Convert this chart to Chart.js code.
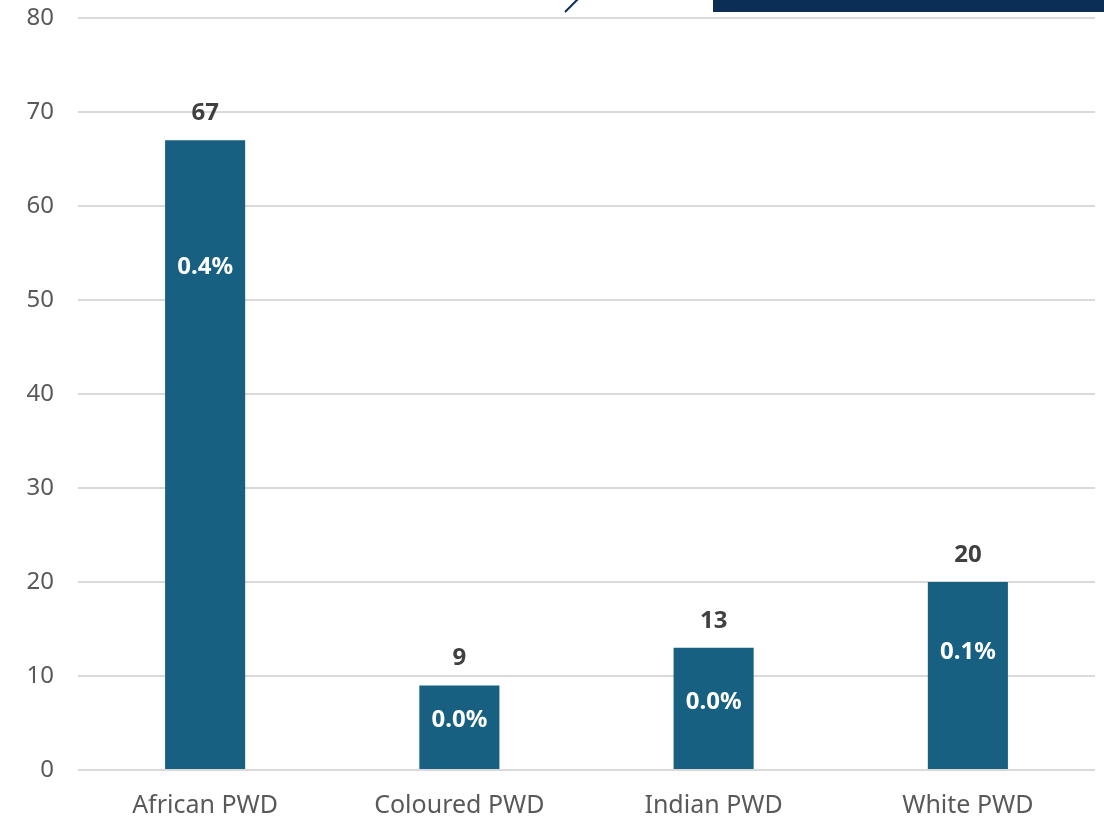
<!DOCTYPE html>
<html>
<head>
<meta charset="utf-8">
<title>PWD by population group</title>
<script src="https://cdn.jsdelivr.net/npm/chart.js@4.4.1/dist/chart.umd.min.js"></script>
<style>
  html, body { margin: 0; padding: 0; background: #ffffff; }
  #wrap { width: 1104px; height: 819px; position: relative; }
</style>
</head>
<body>
<div id="wrap"><canvas id="pwdChart" width="1104" height="819"></canvas></div>
<script>
// Persons with disabilities per population group, with share of group
const groups = ["African PWD", "Coloured PWD", "Indian PWD", "White PWD"];
const counts = [67, 9, 13, 20];
const shares = ["0.4%", "0.0%", "0.0%", "0.1%"];
const yTicks = [0, 10, 20, 30, 40, 50, 60, 70, 80];

const BAR = "#176082";
const FONT = "'Noto Sans', 'DejaVu Sans', sans-serif";

// share label offset below the top of each bar, px
const shareOffsets = [127, 35, 54, 70];

/* ---------------- slide decoration cut off at the top ---------------- */
const slideTrim = {
  id: "slideTrim",
  beforeDraw(chart) {
    const c = chart.ctx;
    c.save();
    c.fillStyle = "#0A2E55";
    c.fillRect(713, 0, 391, 12);
    c.strokeStyle = "#0A2E55";
    c.lineWidth = 2;
    c.beginPath();
    c.moveTo(565, 12);
    c.lineTo(578, -1);
    c.stroke();
    c.restore();
  }
};

/* ---------------- value labels above bars + shares inside ---------------- */
const barLabels = {
  id: "barLabels",
  afterDatasetsDraw(chart) {
    const c = chart.ctx;
    const meta = chart.getDatasetMeta(0);
    c.save();
    c.textAlign = "center";
    c.textBaseline = "middle";
    meta.data.forEach((bar, i) => {
      c.font = "bold 24px " + FONT;
      c.fillStyle = "#404040";
      c.fillText(String(counts[i]), bar.x, bar.y - 27);
      c.fillStyle = "#ffffff";
      c.fillText(shares[i], bar.x, bar.y + shareOffsets[i]);
    });
    c.restore();
  }
};

new Chart(document.getElementById("pwdChart"), {
  type: "bar",
  data: {
    labels: groups,
    datasets: [{
      data: counts,
      backgroundColor: BAR,
      borderWidth: 0,
      barPercentage: 0.315,
      categoryPercentage: 1
    }]
  },
  options: {
    responsive: false,
    animation: false,
    layout: { padding: { top: 18, right: 9, left: 0, bottom: 0 } },
    plugins: { legend: { display: false }, tooltip: { enabled: false } },
    scales: {
      x: {
        grid: { display: false },
        border: { display: false },
        ticks: { color: "#595959", font: { family: FONT, size: 25 }, padding: 13 },
        afterFit(scale) {
          scale.height = 49;
          scale.paddingLeft = 0;
          scale.paddingRight = 0;
        }
      },
      y: {
        min: 0,
        max: 80,
        afterBuildTicks(scale) { scale.ticks = yTicks.map(v => ({ value: v })); },
        grid: { color: "#d9d9d9", lineWidth: 2, drawTicks: false },
        border: { display: false },
        ticks: { color: "#595959", font: { family: FONT, size: 24 }, padding: 24 },
        afterFit(scale) {
          scale.width = 78;
          scale.paddingTop = 0;
          scale.paddingBottom = 0;
        }
      }
    }
  },
  plugins: [slideTrim, barLabels]
});
</script>
</body>
</html>
